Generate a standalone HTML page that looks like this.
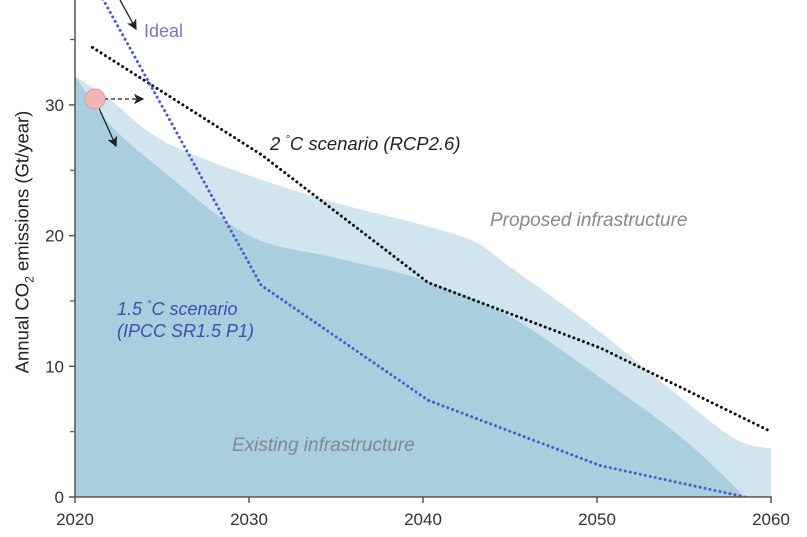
<!DOCTYPE html>
<html><head><meta charset="utf-8"><style>
html,body{margin:0;padding:0;background:#fff;}
svg{display:block;font-family:"Liberation Sans",sans-serif;}
</style></head><body>
<svg id="chart" width="807" height="537" viewBox="0 0 807 537"></svg>
<script>
const existingYears=[2020,2022,2025,2030,2035,2040,2045,2050,2055,2058.5];
const existingVals=[32.2,28.5,25,20,18.3,16.6,13.8,9.3,4.4,0];
const proposedYears=[2020,2022,2025,2030,2035,2040,2043,2045,2050,2055,2058,2060];
const proposedVals=[32.2,30.4,27.3,24.6,22.5,20.8,19.5,17.6,12.8,7.4,4.4,3.7];
const twoYears=[2021,2030.7,2040.3,2050.2,2060];
const twoVals=[34.4,26.2,16.4,11.4,5.0];
const onefiveYears=[2021.6,2030.7,2040.3,2050.2,2058.5];
const onefiveVals=[38.1,16.2,7.4,2.4,0];
const xTicks=[2020,2030,2040,2050,2060];
const yTicks=[0,10,20,30];
const yMinor=[5,15,25,35];

const NS="http://www.w3.org/2000/svg";
const svg=document.getElementById('chart');
const X=v=>75+(v-2020)*17.4;
const Y=v=>497-v*13.07;
function el(t,a,p){const e=document.createElementNS(NS,t);for(const k in a)e.setAttribute(k,a[k]);(p||svg).appendChild(e);return e;}
function smooth(xs,ys){const pts=xs.map((x,i)=>[X(x),Y(ys[i])]);
 let d='M'+pts[0][0]+','+pts[0][1];
 for(let i=0;i<pts.length-1;i++){const p0=pts[Math.max(0,i-1)],p1=pts[i],p2=pts[i+1],p3=pts[Math.min(pts.length-1,i+2)];
  const c1=[p1[0]+(p2[0]-p0[0])/6,p1[1]+(p2[1]-p0[1])/6],c2=[p2[0]-(p3[0]-p1[0])/6,p2[1]-(p3[1]-p1[1])/6];
  d+=` C${c1[0]},${c1[1]} ${c2[0]},${c2[1]} ${p2[0]},${p2[1]}`;}
 return d;}
const defs=el('defs',{});
const cp=el('clipPath',{id:'clip'},defs);el('rect',{x:75,y:0,width:700,height:497},cp);
const mk=el('marker',{id:'ah',markerWidth:8,markerHeight:8,refX:7,refY:4,orient:'auto'},defs);
el('path',{d:'M0,0 L8,4 L0,8 L2,4Z',fill:'#222'},mk);

let a=el('path',{d:smooth(proposedYears,proposedVals)+` L${X(2060)},${Y(0)} L${X(2020)},${Y(0)}Z`,fill:'#d0e5ed'});

a=el('path',{d:smooth(existingYears,existingVals)+` L${X(2020)},${Y(0)}Z`,fill:'#a9cedd'});


const g=el('g',{'clip-path':'url(#clip)'});
a=el('polyline',{points:twoYears.map((x,i)=>X(x)+','+Y(twoVals[i])).join(' '),fill:'none',stroke:'#111','stroke-width':3,'stroke-dasharray':'0.1 5','stroke-linecap':'round'},g);

a=el('polyline',{points:onefiveYears.map((x,i)=>X(x)+','+Y(onefiveVals[i])).join(' '),fill:'none',stroke:'#4a5cd0','stroke-width':3,'stroke-dasharray':'0.1 5','stroke-linecap':'round'},g);


el('line',{x1:75,y1:0,x2:75,y2:497,stroke:'#555','stroke-width':1.5});
el('line',{x1:75,y1:497,x2:772,y2:497,stroke:'#555','stroke-width':1.5});
xTicks.forEach(t=>{el('line',{x1:X(t),y1:497,x2:X(t),y2:503,stroke:'#555','stroke-width':1.5});
 const tx=el('text',{x:X(t),y:525,'text-anchor':'middle','font-size':17,fill:'#333'});tx.textContent=t;
 });
yTicks.forEach(t=>{el('line',{x1:69,y1:Y(t),x2:75,y2:Y(t),stroke:'#555','stroke-width':1.5});
 const tx=el('text',{x:64,y:Y(t)+6,'text-anchor':'end','font-size':17,fill:'#333'});tx.textContent=t;
 });
yMinor.forEach(t=>{el('line',{x1:70,y1:Y(t),x2:75,y2:Y(t),stroke:'#555','stroke-width':1.2});});

el('line',{x1:120,y1:0,x2:136,y2:29,stroke:'#222','stroke-width':1.3,'marker-end':'url(#ah)'});
el('line',{x1:104,y1:99,x2:143,y2:99,stroke:'#222','stroke-width':1.3,'stroke-dasharray':'4 3','marker-end':'url(#ah)'});
el('line',{x1:98,y1:106,x2:116,y2:146,stroke:'#222','stroke-width':1.3,'marker-end':'url(#ah)'});
a=el('circle',{cx:95,cy:99,r:10,fill:'#efb6b6',stroke:'#d89a9a','stroke-width':1});

</script>
<div style="position:absolute;left:0;top:0;width:807px;height:537px;pointer-events:none;font-family:'Liberation Sans',sans-serif;">
<div style="position:absolute;left:24px;top:242px;transform:translate(-50%,-50%) rotate(-90deg);white-space:nowrap;font-size:18.5px;color:#222;">Annual CO<sub style="font-size:12px">2</sub> emissions (Gt/year)</div>
<div style="position:absolute;left:144px;top:21px;font-size:18px;color:#7a78b8;">Ideal</div>
<div style="position:absolute;left:270px;top:133px;font-size:18.5px;font-style:italic;color:#222;">2 <sup style="font-size:11px">°</sup>C scenario (RCP2.6)</div>
<div style="position:absolute;left:490px;top:210px;font-size:19px;font-style:italic;color:#888;">Proposed infrastructure</div>
<div style="position:absolute;left:117px;top:294px;font-size:18px;font-style:italic;color:#3a4fb5;line-height:22px;">1.5 <sup style="font-size:11px">°</sup>C scenario<br>(IPCC SR1.5 P1)</div>
<div style="position:absolute;left:232px;top:435px;font-size:19px;font-style:italic;color:#7f8a8f;">Existing infrastructure</div>
</div>
</body></html>
